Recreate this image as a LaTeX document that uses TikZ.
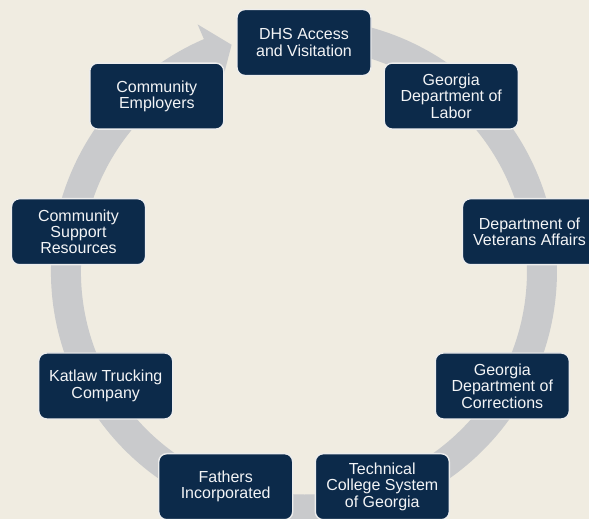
\documentclass[tikz,border=0pt]{standalone}
\usepackage{fontspec}
\setmainfont{Liberation Sans}
\definecolor{paper}{HTML}{F0ECE1}
\definecolor{navy}{HTML}{0C2A4A}
\definecolor{ringgray}{HTML}{C9CACC}
\definecolor{edgewhite}{HTML}{EDEDED}
\tikzset{
  agency/.style={draw=edgewhite, line width=1.4pt, fill=navy, rounded corners=8pt,
    minimum width=134pt, minimum height=66pt, inner sep=2pt, align=center,
    text=white!95!navy, font=\fontsize{16}{16.3}\selectfont},
  ring/.style={draw=ringgray, line width=30pt}
}
\begin{document}
\begin{tikzpicture}[x=1pt,y=1pt]
\useasboundingbox (0,0) rectangle (589,519);
\clip (0,0) rectangle (589,519);
\fill[paper] (0,0) rectangle (589,519);
% ring with arrow head
\draw[ring] (324.7,484.6) arc[start angle=85, end angle=-247, radius=238pt];
\fill[ringgray] (222.1,437.6) -- (231.6,474.2) -- (197.6,494.6) -- cycle;
% agencies
\node[agency] (dhs) at (304.0,476.5) {DHS Access\\and Visitation};
\node[agency] (labor) at (451.2,422.9) {Georgia\\Department of\\Labor};
\node[agency] (veterans) at (529.5,287.3) {Department of\\Veterans Affairs};
\node[agency] (corrections) at (502.3,133.0) {Georgia\\Department of\\Corrections};
\node[agency] (tcsg) at (382.3,32.3) {Technical\\College System\\of Georgia};
\node[agency] (fathers) at (225.7,32.3) {Fathers\\Incorporated};
\node[agency] (katlaw) at (105.7,133.0) {Katlaw Trucking\\Company};
\node[agency] (support) at (78.5,287.3) {Community\\Support\\Resources};
\node[agency] (employers) at (156.8,422.9) {Community\\Employers};
\end{tikzpicture}
\end{document}
